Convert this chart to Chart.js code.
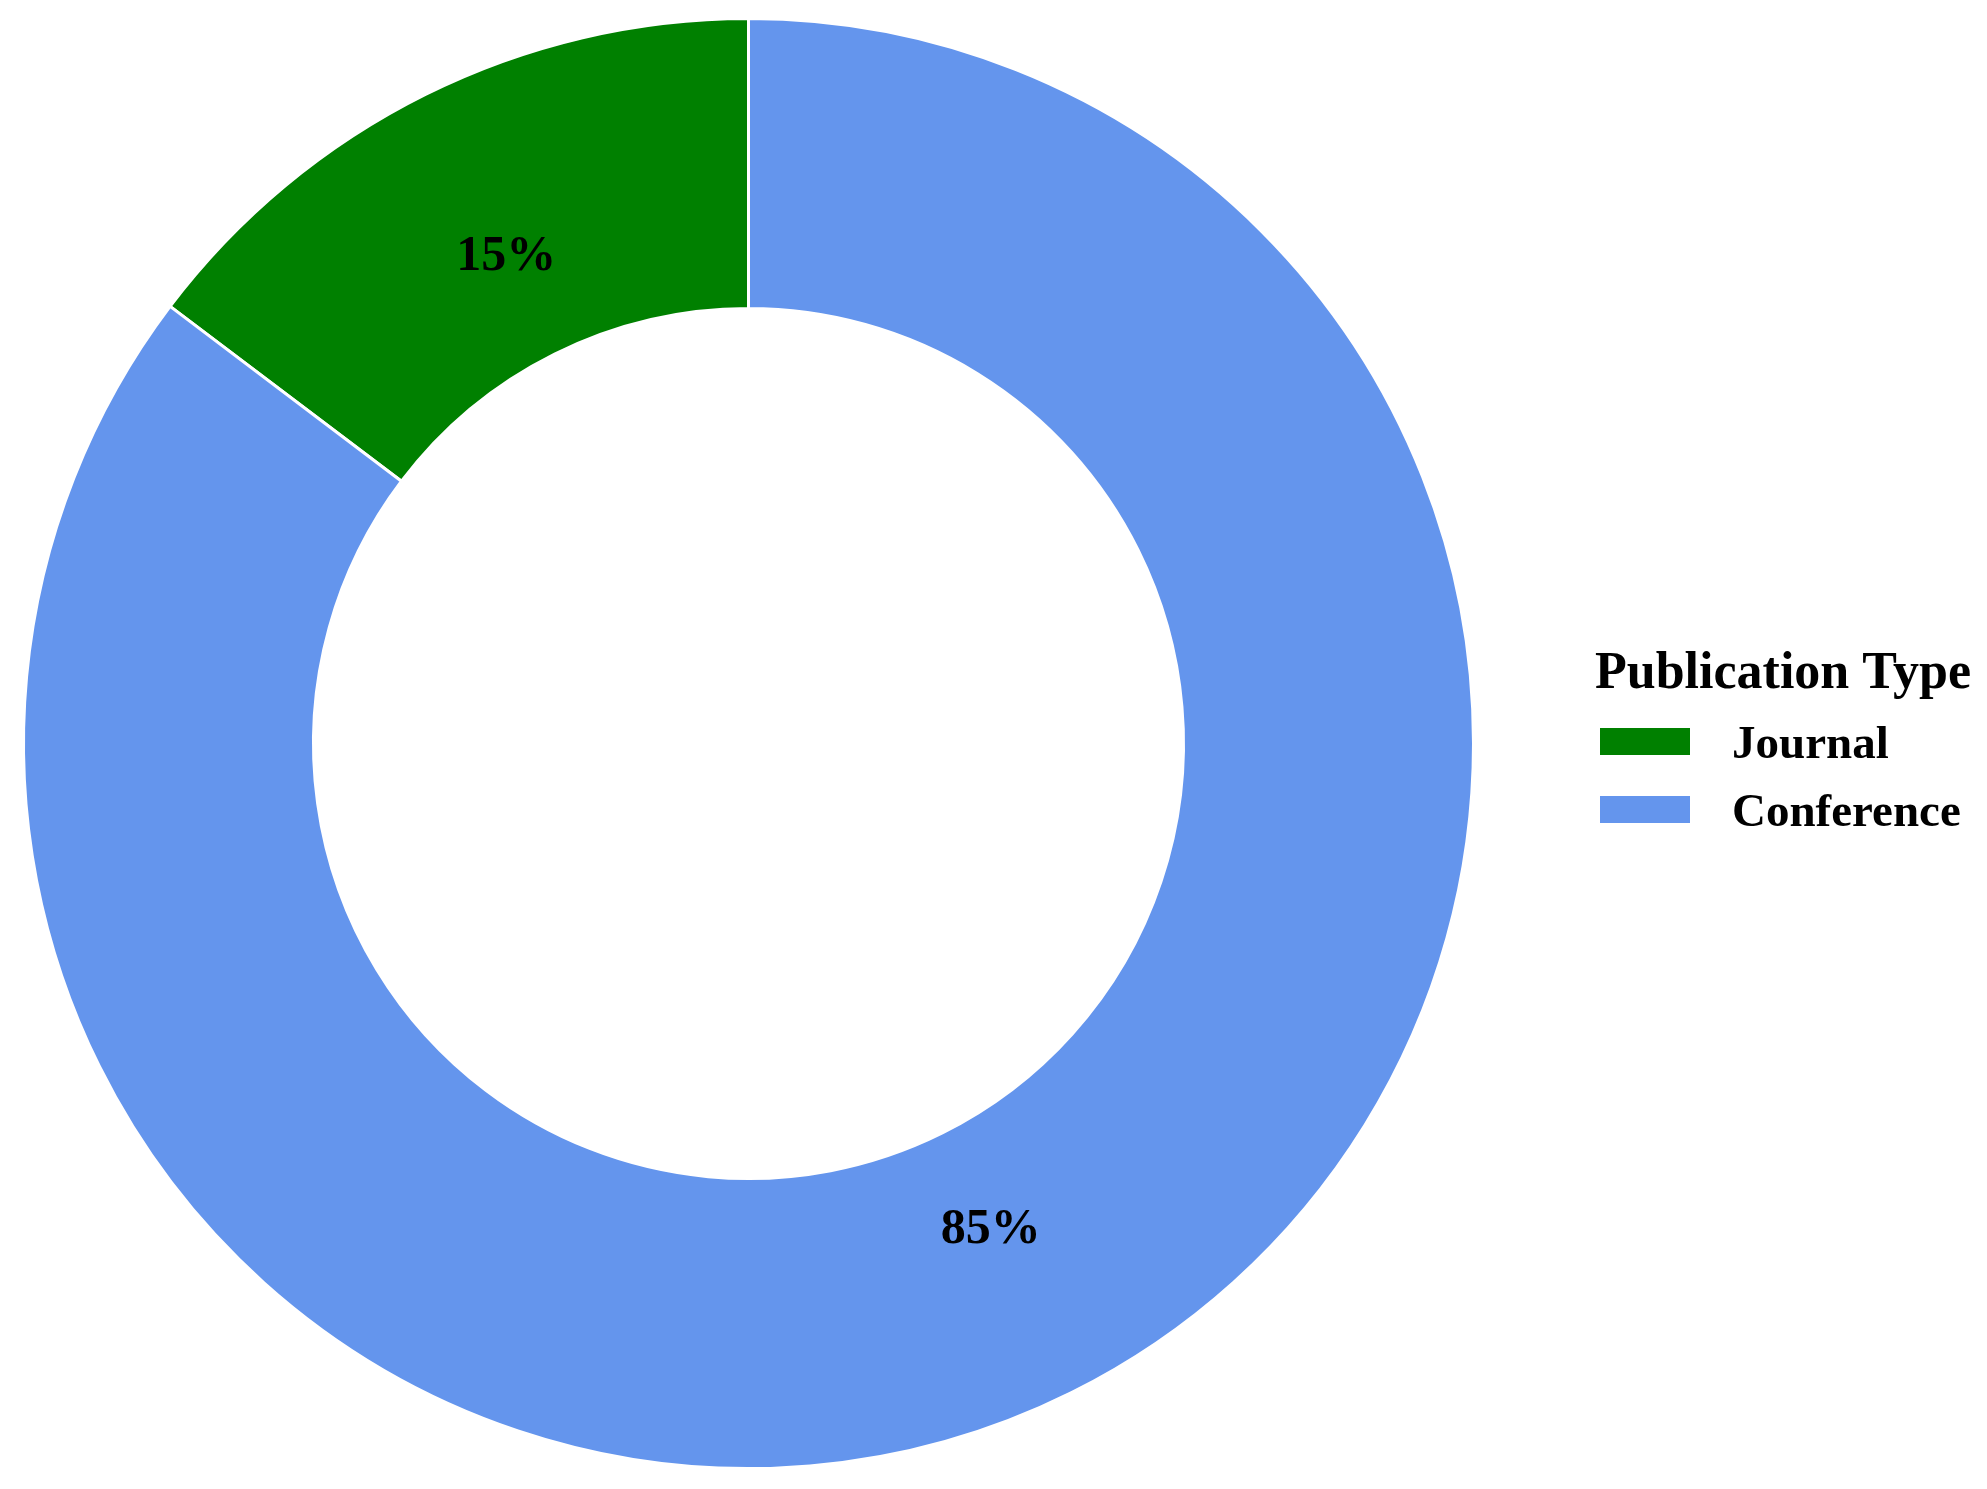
<!DOCTYPE html>
<html>
<head>
<meta charset="utf-8">
<title>Publication Type</title>
<script src="https://cdn.jsdelivr.net/npm/chart.js@4.4.1/dist/chart.umd.min.js"></script>
<style>
    html, body { margin: 0; padding: 0; background: #ffffff; }
    #wrap { width: 1987px; height: 1489px; position: relative; }
</style>
</head>
<body>
<div id="wrap"><canvas id="pubChart" width="1987" height="1489"></canvas></div>
<script>
// data
var categories = ["Journal", "Conference"];
var shares = [14.7, 85.3];          // percent of publications
var sliceColors = ["#008000", "#6495ED"];
var legendTitle = "Publication Type";

var serif = "'Times New Roman', 'Liberation Serif', serif";

// percentage labels inside each ring segment
var pctLabels = {
    id: 'pctLabels',
    afterDatasetsDraw: function(chart) {
        var ctx = chart.ctx;
        var meta = chart.getDatasetMeta(0);
        var total = shares.reduce(function(a, b) { return a + b; }, 0);
        ctx.save();
        ctx.font = "bold 50px " + serif;
        ctx.fillStyle = "#000000";
        ctx.textAlign = "center";
        ctx.textBaseline = "middle";
        meta.data.forEach(function(arc, i) {
            var p = arc.getProps(['x', 'y', 'startAngle', 'endAngle', 'outerRadius'], true);
            var mid = (p.startAngle + p.endAngle) / 2;
            var r = p.outerRadius * 0.75;
            var txt = Math.round(shares[i] / total * 100) + "%";
            ctx.fillText(txt, p.x + Math.cos(mid) * r, p.y + Math.sin(mid) * r);
        });
        ctx.restore();
    }
};

// legend drawn by hand so the ring can stay where it is
var sideLegend = {
    id: 'sideLegend',
    afterDraw: function(chart) {
        var ctx = chart.ctx;
        var left = 1595;
        ctx.save();
        ctx.fillStyle = "#000000";
        ctx.textAlign = "left";
        ctx.textBaseline = "alphabetic";
        ctx.font = "bold 52px " + serif;
        ctx.fillText(legendTitle, left, 688);

        ctx.font = "bold 47px " + serif;
        for (var i = 0; i < categories.length; i++) {
            var top = 728 + i * 68;
            ctx.fillStyle = sliceColors[i];
            ctx.fillRect(left + 5, top, 90, 27);
            ctx.fillStyle = "#000000";
            ctx.fillText(categories[i], 1732, top + 30);
        }
        ctx.restore();
    }
};

var chart = new Chart(document.getElementById('pubChart').getContext('2d'), {
    type: 'doughnut',
    data: {
        labels: categories,
        datasets: [{
            data: shares,
            backgroundColor: sliceColors,
            borderColor: '#ffffff',
            borderWidth: 3
        }]
    },
    options: {
        responsive: false,
        animation: false,
        cutout: '60%',
        rotation: -360 * shares[0] / shares.reduce(function(a, b) { return a + b; }, 0),
        layout: {
            padding: { top: 17, left: 22, right: 512, bottom: 19 }
        },
        plugins: {
            legend: { display: false },
            tooltip: { enabled: false }
        }
    },
    plugins: [pctLabels, sideLegend]
});
</script>
</body>
</html>
